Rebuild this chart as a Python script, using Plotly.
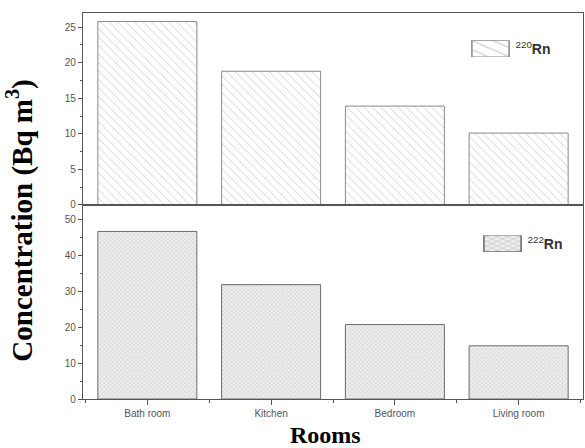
import plotly.graph_objects as go
from plotly.subplots import make_subplots

rooms = ["Bath room", "Kitchen", "Bedroom", "Living room"]
rn220 = [25.8, 18.8, 13.9, 10.1]
rn222 = [46.6, 31.8, 20.7, 14.8]
xpos = list(range(len(rooms)))

fig = make_subplots(rows=2, cols=1, shared_xaxes=True, vertical_spacing=0,
                    row_heights=[0.497, 0.503])

fig.add_trace(go.Bar(
    x=xpos, y=rn220, name="<sup>220</sup><b>Rn</b>", width=0.8, showlegend=True,
    marker=dict(color="white", line=dict(color="#8a8a8a", width=1),
                pattern=dict(shape="\\", fgcolor="#a0a0a0", bgcolor="white", size=6, solidity=0.15)),
    legend="legend"), row=1, col=1)

fig.add_trace(go.Bar(
    x=xpos, y=rn222, name="<sup>222</sup><b>Rn</b>", width=0.8, showlegend=True,
    marker=dict(color="white", line=dict(color="#6a6a6a", width=1),
                pattern=dict(shape="x", fgcolor="#a8a8a8", bgcolor="#eeeeee", size=3, solidity=0.3)),
    legend="legend2"), row=2, col=1)

tickfont = dict(family="Arial, Liberation Sans, sans-serif", size=10, color="#555")
axcommon = dict(showline=True, linecolor="#555", linewidth=1.3, mirror=True,
                ticks="outside", ticklen=4, tickcolor="#555", showgrid=False,
                zeroline=False, tickfont=tickfont)

fig.update_yaxes(range=[0, 27], tickvals=[0, 5, 10, 15, 20, 25],
                 minor=dict(ticks="outside", ticklen=2, tickcolor="#555", dtick=2.5, tick0=0),
                 **axcommon, row=1, col=1)
fig.update_yaxes(range=[0, 54], tickvals=[0, 10, 20, 30, 40, 50],
                 minor=dict(ticks="outside", ticklen=2, tickcolor="#555", dtick=5, tick0=0),
                 **axcommon, row=2, col=1)
fig.update_xaxes(range=[-0.52, 3.52], tickvals=xpos, ticktext=rooms, **axcommon)
fig.update_xaxes(showticklabels=False, ticks="", row=1, col=1)
fig.update_xaxes(row=2, col=1, ticklen=5,
                 minor=dict(ticks="outside", ticklen=3, tickcolor="#555", tick0=0.5, dtick=1))

serif = "Liberation Serif, Times New Roman, serif"
fig.update_layout(
    width=585, height=448,
    margin=dict(l=83, r=2, t=13, b=49, autoexpand=False),
    plot_bgcolor="white", paper_bgcolor="white",
    showlegend=True,
    legend=dict(x=0.765, y=0.948, xanchor="left", yanchor="top", bgcolor="rgba(0,0,0,0)",
                font=dict(family="Arial, Liberation Sans, sans-serif", size=14, color="#333"),
                itemwidth=40),
    legend2=dict(x=0.789, y=0.443, xanchor="left", yanchor="top", bgcolor="rgba(0,0,0,0)",
                 font=dict(family="Arial, Liberation Sans, sans-serif", size=14, color="#333"),
                 itemwidth=40),
    annotations=[
        dict(text="<b>Concentration (Bq m<sup>3</sup>)</b>", textangle=-90,
             xref="paper", yref="paper", x=-0.126, y=0.462, xanchor="center", yanchor="middle",
             showarrow=False, font=dict(family=serif, size=29, color="black")),
        dict(text="<b>Rooms</b>", xref="paper", yref="paper", x=0.484, y=-0.092,
             xanchor="center", yanchor="middle", showarrow=False,
             font=dict(family=serif, size=24, color="black")),
    ],
)

post = """
document.body.style.margin='0';
document.body.style.padding='0';
document.querySelectorAll('.legendpoints path').forEach(function(p){
  var t = p.getAttribute('transform') || '';
  p.setAttribute('transform', t + ' scale(3.1,1.35)');
  p.style.strokeWidth = '0.5px';
});
"""
fig.write_html("out.html", post_script=post, config={"displayModeBar": False})
